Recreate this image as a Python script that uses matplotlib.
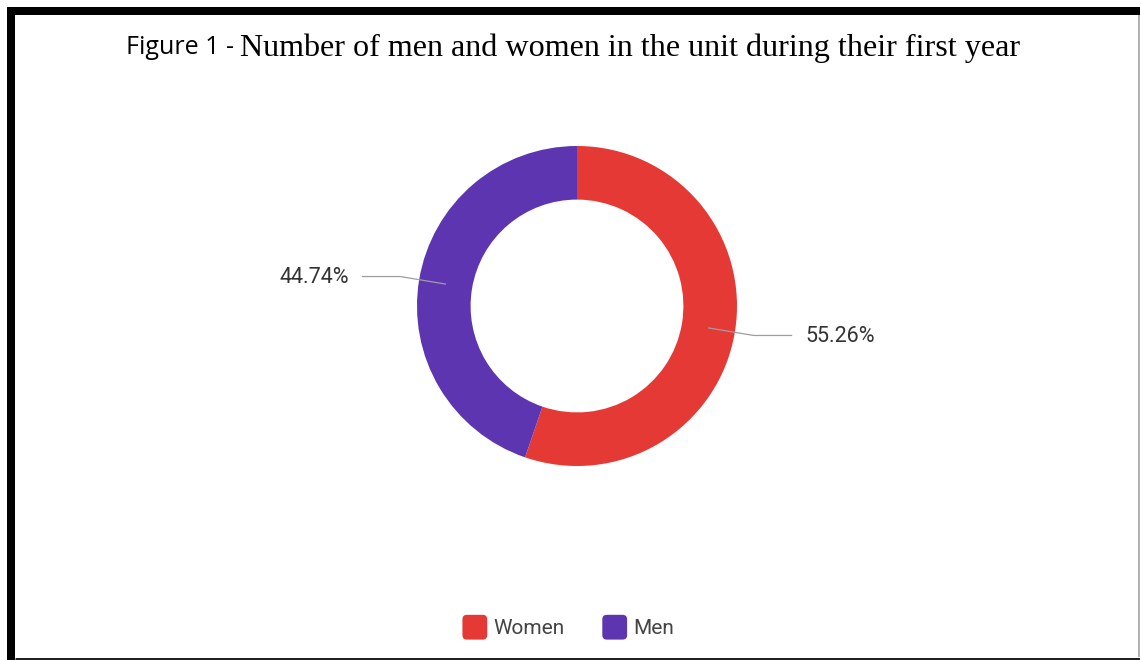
import numpy as np
import matplotlib.pyplot as plt
from matplotlib.lines import Line2D
from matplotlib.patches import Patch, FancyBboxPatch
from matplotlib.legend_handler import HandlerPatch

labels = ["Women", "Men"]
shares = [55.26, 44.74]
colors = ["#E53935", "#5E35B1"]
title_prefix = "Figure 1 - "
title_main = "Number of men and women in the unit during their first year"

W, H = 1140, 660
fig = plt.figure(figsize=(W / 100, H / 100), dpi=100)

# donut centred at (577, 306) px, radius 160 px
cx, cy, R = 577, 306, 160
ax = fig.add_axes([(cx - R) / W, (H - cy - R) / H, 2 * R / W, 2 * R / H])
wedges, _ = ax.pie(shares, colors=colors, startangle=90, counterclock=False,
                   radius=1, wedgeprops=dict(width=0.335, linewidth=0))
ax.set_xlim(-1, 1)
ax.set_ylim(-1, 1)
ax.set_aspect("equal")
ax.axis("off")

# leader lines + percentage labels
for w, val in zip(wedges, shares):
    mid = np.deg2rad((w.theta1 + w.theta2) / 2)
    x0, y0 = 0.83 * np.cos(mid), 0.83 * np.sin(mid)
    x1, y1 = 1.12 * np.cos(mid), 1.12 * np.sin(mid)
    side = np.sign(np.cos(mid))
    x2 = x1 + side * 0.24
    ax.plot([x0, x1, x2], [y0, y1, y1], color="#9e9e9e", lw=0.9,
            clip_on=False, solid_capstyle="butt")
    ax.text(x2 + side * 0.08, y1 - 0.008, f"{val:.2f}%", ha="left" if side > 0 else "right",
            va="center", fontsize=15.5, family="Roboto", color="#333333", clip_on=False)

# title: sans prefix + serif main text
fig.canvas.draw()
r = fig.canvas.get_renderer()
t1 = fig.text(126 / W, 1 - 48 / H, title_prefix, fontsize=18, family="Open Sans",
              va="center", ha="left", color="black")
bb = t1.get_window_extent(renderer=r)
fig.text(bb.x1 / W, 1 - 48 / H, title_main, fontsize=23.1, family="Liberation Serif",
         va="center", ha="left", color="black")


# legend with rounded colour boxes
class RoundBox(HandlerPatch):
    def create_artists(self, legend, orig, xd, yd, width, height, fontsize, trans):
        s = height * 1.7
        p = FancyBboxPatch((xd + width - s, yd + height / 2 - s / 2), s, s,
                           boxstyle=f"round,pad=0,rounding_size={s * 0.18}",
                           facecolor=orig.get_facecolor(), edgecolor="none",
                           transform=trans)
        return [p]


handles = [Patch(facecolor=c) for c in colors]
fig.legend(handles, labels, loc="center", bbox_to_anchor=(564 / W, 1 - 629 / H),
           ncol=2, frameon=False, handletextpad=0.3, columnspacing=1.4,
           handlelength=1.6, handler_map={Patch: RoundBox()},
           prop=dict(family="Roboto", size=15), labelcolor="#444444")

# frame around the screenshot
def hline(y, x0, x1, lw, c):
    fig.add_artist(Line2D([x0 / W, x1 / W], [1 - y / H, 1 - y / H], lw=lw * 0.72,
                          color=c, transform=fig.transFigure, solid_capstyle="butt"))

def vline(x, y0, y1, lw, c):
    fig.add_artist(Line2D([x / W, x / W], [1 - y0 / H, 1 - y1 / H], lw=lw * 0.72,
                          color=c, transform=fig.transFigure, solid_capstyle="butt"))

hline(11, 7, W, 8, "black")
vline(11, 7, H, 8, "black")
hline(658.5, 15, W, 3, "#222222")
vline(1138.5, 15, 657, 1.5, "#999999")

fig.savefig("out.png", dpi=100)
